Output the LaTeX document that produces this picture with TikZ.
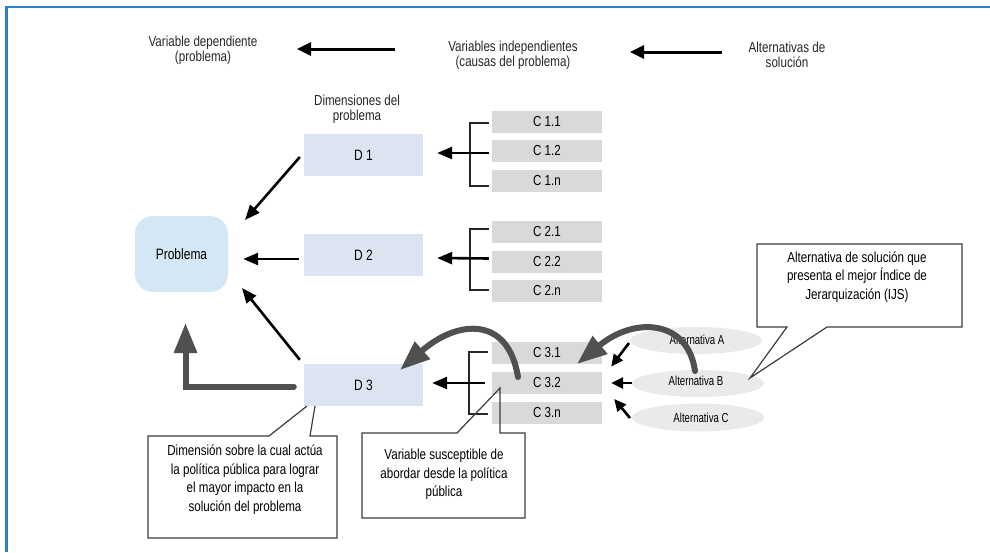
\documentclass[tikz,border=0pt]{standalone}
\usepackage{fontspec}
\setmainfont{Liberation Sans}[FakeStretch=0.80]
\newfontfamily\narrowfont{Liberation Sans}[FakeStretch=0.74]
\usetikzlibrary{arrows.meta,calc}

\definecolor{frameblue}{RGB}{43,128,198}
\definecolor{dimfill}{RGB}{221,228,241}
\definecolor{probfill}{RGB}{211,231,244}
\definecolor{causefill}{RGB}{217,217,217}
\definecolor{altfill}{RGB}{234,234,234}
\definecolor{heavy}{RGB}{80,80,80}
\definecolor{calloutline}{RGB}{60,60,60}

\tikzset{
  headtext/.style={align=center, font=\fontsize{14.5}{15}\selectfont, text=black!85, inner sep=0pt},
  dimbox/.style={fill=dimfill, minimum width=119pt, minimum height=42pt, inner sep=0pt,
                 font=\fontsize{15}{17}\selectfont},
  causebox/.style={fill=causefill, minimum width=110pt, minimum height=22pt, inner sep=0pt,
                   font=\fontsize{14.5}{16}\selectfont},
  alttext/.style={font=\narrowfont\fontsize{13}{14}\selectfont, inner sep=0pt},
  blackarrow/.style={line width=2.6pt, -{Triangle[length=15pt,width=12pt]}},
  smallarrow/.style={line width=2.6pt, -{Triangle[length=12pt,width=11pt]}},
  bracket/.style={line width=1.3pt, black!85},
  heavyarrow/.style={line width=6pt, heavy, line cap=round, line join=miter,
                     -{Triangle[length=30pt,width=22pt]}},
  callout/.style={line width=1.2pt, calloutline, line join=miter},
  callouttext/.style={align=center, font=\fontsize{14.5}{18.5}\selectfont, inner sep=0pt}
}

\begin{document}
\begin{tikzpicture}[x=1pt, y=-1pt]
\useasboundingbox (0,0) rectangle (990,552);

% frame
\draw[frameblue, line width=2.2pt] (6.5,552) -- (6.5,7) -- (990,7);

% headings
\node[headtext] (hdep) at (203,50) {Variable dependiente\\(problema)};
\node[headtext] (hind) at (513,55) {Variables independientes\\(causas del problema)};
\node[headtext] (halt) at (787,55) {Alternativas de\\solución};
\coordinate (a1s) at (395,49);
\coordinate (a1e) at (297,49);
\coordinate (a2s) at (722,52);
\coordinate (a2e) at (630,52);
\draw[line width=3pt, -{Triangle[length=14pt,width=13pt]}] (a1s) -- (a1e);
\draw[line width=3pt, -{Triangle[length=14pt,width=13pt]}] (a2s) -- (a2e);

\node[headtext] (hdim) at (357,109) {Dimensiones del\\problema};

% problem
\node[fill=probfill, rounded corners=18pt, minimum width=93pt, minimum height=76pt,
      inner sep=0pt, font=\fontsize{15}{17}\selectfont] (prob) at (181.5,254) {Problema};

% dimensions
\node[dimbox] (d1) at (363.5,155) {D 1};
\node[dimbox] (d2) at (363.5,255) {D 2};
\node[dimbox] (d3) at (363.5,385) {D 3};

% causes
\node[causebox] (c11) at (547,122) {C 1.1};
\node[causebox] (c12) at (547,151) {C 1.2};
\node[causebox] (c1n) at (547,180.5) {C 1.n};
\node[causebox] (c21) at (547,232) {C 2.1};
\node[causebox] (c22) at (547,261.5) {C 2.2};
\node[causebox] (c2n) at (547,291) {C 2.n};
\node[causebox] (c31) at (547,352.5) {C 3.1};
\node[causebox] (c32) at (547,383) {C 3.2};
\node[causebox] (c3n) at (547,413) {C 3.n};

% brackets grouping the causes
\draw[bracket] ($(c11.west)+(-3,1)$) -| (470,186) -- ($(c1n.west)+(-3,5.5)$);
\draw[bracket] ($(c21.west)+(-3,-3)$) -| (470,290) -- ($(c2n.west)+(-3,-1)$);
\draw[bracket] ($(c31.west)+(-4,-0.5)$) -| (469,414) -- ($(c3n.west)+(-4,1)$);
\draw[blackarrow] ($(c12.west)+(-3,2)$) -- ($(d1.east)+(14,-2)$);
\draw[blackarrow] ($(c22.west)+(-3,-3)$) -- ($(d2.east)+(14,3)$);
\draw[blackarrow] ($(c32.west)+(-7,0)$) -- ($(d3.east)+(9,-2)$);

% dimensions towards the problem
\draw[blackarrow] ($(d1.west)+(-4,2)$) -- (245,220);
\draw[blackarrow] ($(d2.west)+(-5,4)$) -- ($(prob.east)+(15,5)$);
\draw[blackarrow] ($(d3.north west)+(-4,-4)$) -- (242,288);

% heavy arrows
\draw[heavyarrow] ($(d3.west)+(-10,1.5)$) -| (185.5,323);
\draw[heavyarrow] (518,377) .. controls (508,315) and (457,320) .. (400,370);

% alternatives
\fill[altfill] (696,340.5) ellipse [x radius=66, y radius=13.5];
\fill[altfill] (698,383.5) ellipse [x radius=66, y radius=13.5];
\fill[altfill] (698,417.5) ellipse [x radius=66, y radius=14];
\node[alttext] (alta) at (697,340) {Alternativa A};
\node[alttext] (altb) at (696,381) {Alternativa B};
\node[alttext] (altc) at (701,418) {Alternativa C};

\draw[heavyarrow] (695,371) .. controls (688,320) and (635,316) .. (577,364);

\draw[smallarrow] (629,343) -- ($(c31.east)+(9,14)$);
\draw[smallarrow] (632,383) -- ($(c32.east)+(9,0)$);
\draw[smallarrow] (630,418) -- ($(c3n.east)+(12,-14)$);

% callouts
\draw[callout] (750,378) -- (787,327) -- (757,327) -- (757,244) -- (962,244)
  -- (962,327) -- (827,327) -- cycle;
\node[callouttext] (co1) at (857,277) {Alternativa de solución que\\presenta el mejor Índice de\\Jerarquización (IJS)};

\draw[callout] (307,406) -- (269,436) -- (148,436) -- (148,538) -- (337,538)
  -- (337,436) -- (310,436) -- (315,406);
\node[callouttext] (co2) at (245,479.5) {Dimensión sobre la cual actúa\\la política pública para lograr\\el mayor impacto en la\\solución del problema};

\draw[callout] (500,388) -- (457,433) -- (362,433) -- (362,518) -- (525,518)
  -- (525,433) -- (500,433) -- cycle;
\node[callouttext] (co3) at (444,474.5) {Variable susceptible de\\abordar desde la política\\pública};
\end{tikzpicture}
\end{document}
